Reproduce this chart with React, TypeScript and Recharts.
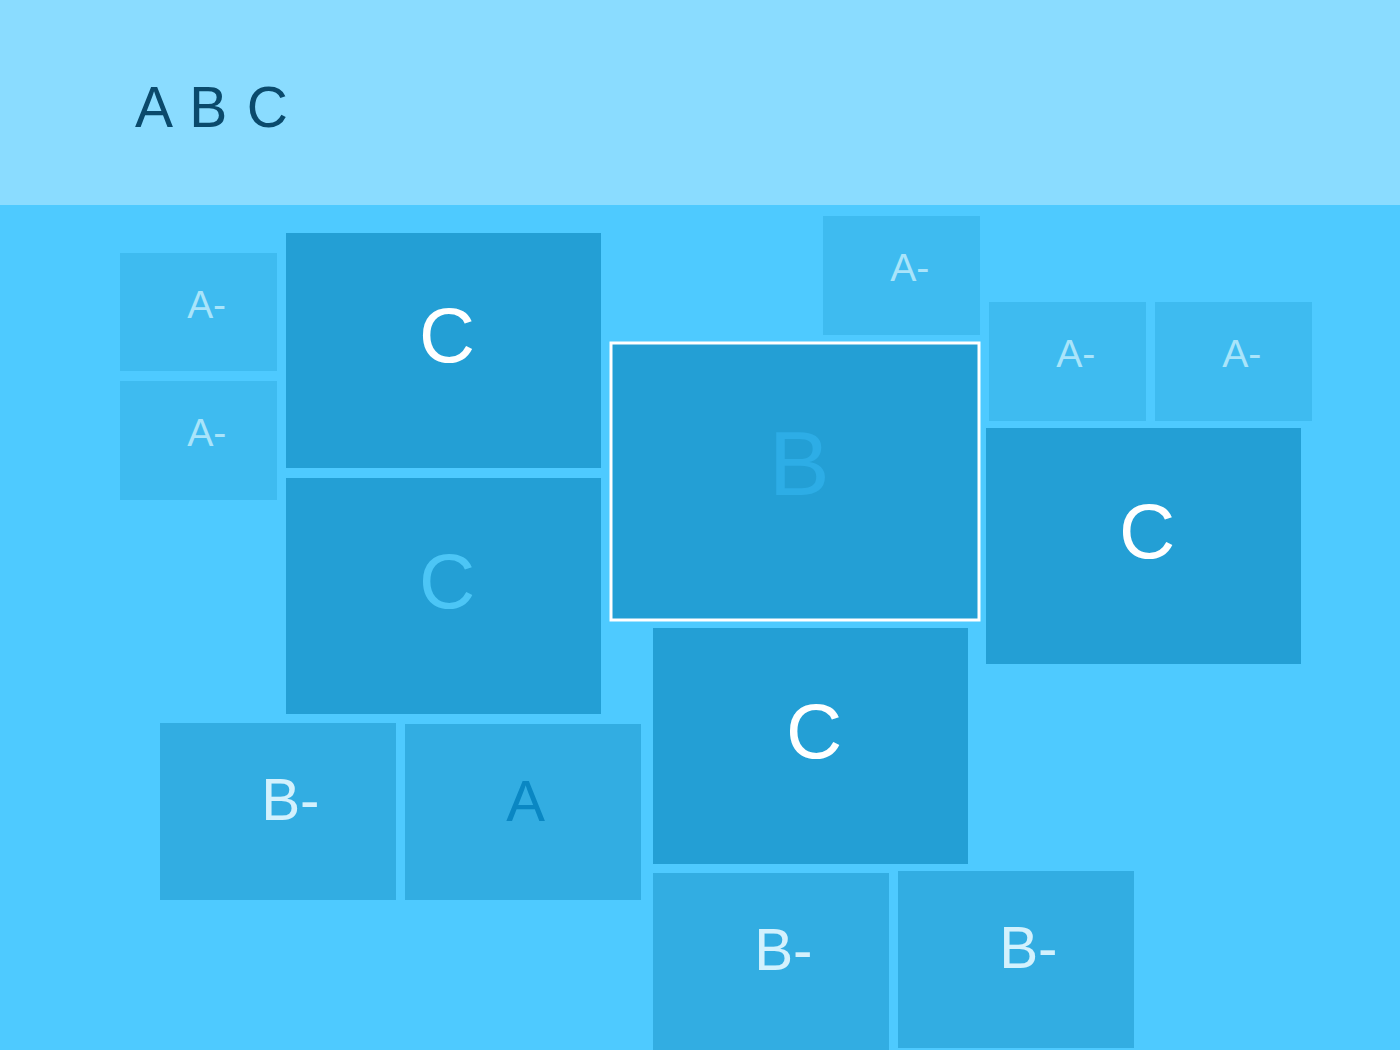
import React from "react";
import { ScatterChart, Scatter, XAxis, YAxis, ReferenceArea } from "recharts";

// ---- data ----
const titleText = "A B C";
const gradeLabels = ["A-", "A-", "C", "C", "B", "A-", "A-", "A-", "C", "C", "B-", "A", "B-", "B-"];
const tileLeft = [120, 120, 286, 286, 611, 823, 989, 1155, 986, 653, 160, 405, 653, 898];
const tileTop = [253, 381, 233, 478, 343, 216, 302, 302, 428, 628, 723, 724, 873, 871];
const tileWidth = [157, 157, 315, 315, 368, 157, 157, 157, 315, 315, 236, 236, 236, 236];
const tileHeight = [118, 119, 235, 236, 277, 119, 119, 119, 236, 236, 177, 176, 177, 177];
const labelTone = ["pale", "pale", "white", "faintC", "faintB", "pale", "pale", "pale", "white", "white", "ice", "deep", "ice", "ice"];
const selectedIndex = 4;
const headerBottom = 205;

// ---- styles ----
const W = 1400;
const H = 1050;
const FONT = "'Liberation Sans', Arial, Helvetica, sans-serif";
const HEADER_BG = "#8ADCFF";
const BODY_BG = "#4ECAFF";
const TITLE_COLOR = "#0A4A6C";
const gradeFill: Record<string, string> = {
  "A-": "#3EBBF0",
  C: "#239FD5",
  B: "#239FD5",
  "B-": "#32ADE2",
  A: "#32ADE2",
};
const toneColor: Record<string, string> = {
  pale: "#A9E4FA",
  white: "#FFFFFF",
  faintC: "#4CC6F6",
  faintB: "#2DADE6",
  ice: "#D3F1FD",
  deep: "#0A87C3",
};

const tiles = gradeLabels.map((g, i) => ({
  grade: g,
  x1: tileLeft[i],
  x2: tileLeft[i] + tileWidth[i],
  y1: tileTop[i],
  y2: tileTop[i] + tileHeight[i],
  cx: tileLeft[i] + tileWidth[i] / 2,
  cy: tileTop[i] + tileHeight[i] / 2,
  tone: labelTone[i],
}));

const makeTileLabel = (grade: string, tone: string) => (props: any) => {
  const vb = props.viewBox || {};
  const { x = 0, y = 0, width = 0, height = 0 } = vb;
  const fs = height * 0.33;
  const cx = x + width / 2 + fs * 0.045;
  const base = y + height * 0.43 + fs * 0.36;
  const main = grade.charAt(0);
  const suffix = grade.slice(1);
  const fill = toneColor[tone];
  return (
    <g>
      <text x={cx} y={base} textAnchor="middle" fontSize={fs} fontFamily={FONT} fill={fill}>
        {main}
      </text>
      {suffix ? (
        <text x={cx + fs * 0.33} y={base} textAnchor="start" fontSize={fs} fontFamily={FONT} fill={fill}>
          {suffix}
        </text>
      ) : null}
    </g>
  );
};

const titleLabel = (props: any) => {
  const vb = props.viewBox || {};
  const { x = 0, y = 0, height = 0 } = vb;
  return (
    <text
      x={x + 135}
      y={y + height * 0.62}
      fontSize={57}
      fontFamily={FONT}
      fill={TITLE_COLOR}
      letterSpacing={1.8}
      style={{ whiteSpace: "pre" }}
    >
      {titleText}
    </text>
  );
};

export default function App() {
  return (
    <div style={{ position: "absolute", left: 0, top: 0, width: W, height: H, background: BODY_BG }}>
      <ScatterChart width={W} height={H} margin={{ top: 0, right: 0, bottom: 0, left: 0 }}>
        <XAxis type="number" dataKey="cx" domain={[0, W]} hide allowDataOverflow />
        <YAxis type="number" dataKey="cy" domain={[0, H]} reversed hide allowDataOverflow />
        <ReferenceArea x1={0} x2={W} y1={0} y2={headerBottom} fill={HEADER_BG} fillOpacity={1} stroke="none" label={titleLabel} />
        <ReferenceArea x1={0} x2={W} y1={headerBottom} y2={H} fill={BODY_BG} fillOpacity={1} stroke="none" />
        {tiles.map((t, i) => (
          <ReferenceArea
            key={i}
            x1={t.x1}
            x2={t.x2}
            y1={t.y1}
            y2={t.y2}
            fill={gradeFill[t.grade]}
            fillOpacity={1}
            stroke={i === selectedIndex ? "#FFFFFF" : "none"}
            strokeWidth={i === selectedIndex ? 3 : 0}
            label={makeTileLabel(t.grade, t.tone)}
          />
        ))}
        <Scatter data={tiles} fill="none" isAnimationActive={false} shape={() => <g />} />
      </ScatterChart>
    </div>
  );
}
